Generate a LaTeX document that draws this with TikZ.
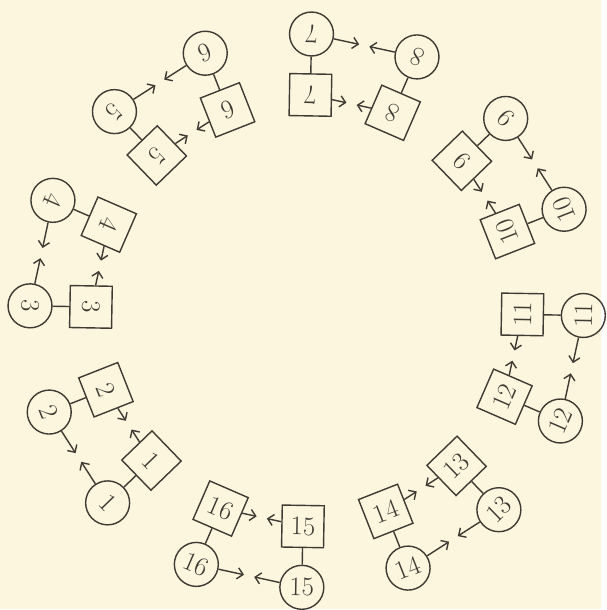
\documentclass[tikz,border=0pt]{standalone}
\usepackage{fontspec}
\usepackage{tikz}
\usetikzlibrary{arrows.meta,calc}
\definecolor{ink}{HTML}{3F3B33}
\definecolor{paper}{HTML}{FBF6DD}

\begin{document}
\begin{tikzpicture}[
    x=0.025cm, y=0.025cm,
    box/.style={rectangle, draw=ink, line width=1pt, minimum size=1.05cm, inner sep=0pt, text=ink, font=\fontsize{19}{19}\selectfont},
    ring/.style={circle, draw=ink, line width=1pt, minimum size=1.1cm, inner sep=0pt, text=ink, font=\fontsize{19}{19}\selectfont},
    link/.style={draw=ink, line width=1pt},
    stub/.style={-{Straight Barb[length=4pt,width=8pt]}, draw=ink, line width=1pt, shorten >=0.13cm}
]
    \fill[paper] (-307,-299) rectangle (295,311);

    % squares on the inner ring, circles on the outer ring
    \foreach \n in {1,...,16}{
        \pgfmathsetmacro{\ang}{246.5-22.5*\n}
        \node[box, rotate=\ang+90] (sq\n) at (\ang:216) {\n};
        \node[ring, rotate=\ang+90] (ci\n) at (\ang:277) {\n};
        \draw[link] (sq\n) -- (ci\n);
    }

    % arrows pointing at each other within a group
    \foreach \a/\b in {1/2,3/4,5/6,7/8,9/10,11/12,13/14,15/16}{
        \draw[stub] (sq\a) -- ($(sq\a)!.5!(sq\b)$);
        \draw[stub] (sq\b) -- ($(sq\b)!.5!(sq\a)$);
        \draw[stub] (ci\a) -- ($(ci\a)!.5!(ci\b)$);
        \draw[stub] (ci\b) -- ($(ci\b)!.5!(ci\a)$);
    }
\end{tikzpicture}
\end{document}
